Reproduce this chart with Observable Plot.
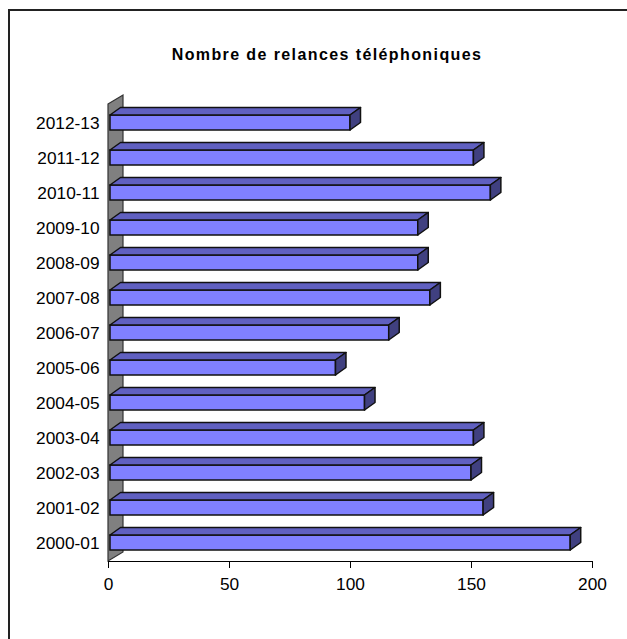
<!DOCTYPE html>
<html>
<head>
<meta charset="utf-8">
<script src="https://cdn.jsdelivr.net/npm/d3@7"></script>
<script src="https://cdn.jsdelivr.net/npm/@observablehq/plot@0.6"></script>
<style>
  html, body { margin: 0; padding: 0; background: white; width: 627px; height: 639px; overflow: hidden; position: relative; font-family: "Liberation Sans", Arial, sans-serif; }
  #frame { position: absolute; left: 8px; top: 9px; width: 800px; height: 800px; border-left: 2px solid #222; border-top: 2px solid #222; }
  #title { position: absolute; left: 127px; width: 400px; top: 47px; line-height: 16px; text-align: center; font-weight: bold; font-size: 16px; letter-spacing: 1.4px; color: #000; }
  #chart { position: absolute; left: 0; top: 80px; }
</style>
</head>
<body>
<div id="frame"></div>
<div id="title">Nombre de relances téléphoniques</div>
<div id="chart"></div>
<script>
const seasons = ["2000-01","2001-02","2002-03","2003-04","2004-05","2005-06","2006-07","2007-08","2008-09","2009-10","2010-11","2011-12","2012-13"];
const relances = [191,155,150,151,106,94,116,133,128,128,158,151,100];
const xTicks = [0,50,100,150,200];

const data = seasons.map((s, i) => ({season: s, value: relances[i]}));

const plot = Plot.plot({
  width: 627,
  height: 530,
  marginLeft: 108,
  marginRight: 35,
  marginTop: 24,
  marginBottom: 49,
  style: {background: "transparent", fontFamily: "'Liberation Sans', Arial, sans-serif", fontSize: "17.3px", color: "#000", overflow: "visible"},
  x: {domain: [0, 200], ticks: xTicks, tickFormat: d => String(d), tickSize: 7, tickPadding: 9, label: null, line: true},
  y: {domain: seasons.slice().reverse(), paddingInner: 0.575, paddingOuter: 0.2875, tickSize: 0, tickPadding: 9, label: null},
  marks: [
    Plot.barX(data, {x1: 0, x2: "value", y: "season", fill: "#8080ff", stroke: "#111", strokeWidth: 1.5, insetLeft: 2})
  ]
});
document.getElementById("chart").appendChild(plot);

// 3D faces drawn from the plot's own scales
const sx = plot.scale("x"), sy = plot.scale("y");
const bw = sy.bandwidth !== undefined ? sy.bandwidth : Math.abs(sy.apply(seasons[0]) - sy.apply(seasons[1])) * (1 - 0.575);
const svg = d3.select(plot);
const yr = sy.range;
const r0 = Math.min(yr[0], yr[1]), r1 = Math.max(yr[0], yr[1]);
const x0 = sx.apply(0);
const wdx = 15, wdy = -9;
const wall = svg.insert("g", ":first-child");
wall.append("polygon")
  .attr("points", [[x0, r0], [x0 + wdx, r0 + wdy], [x0 + wdx, r1 + wdy], [x0, r1]].map(p => p.join(",")).join(" "))
  .attr("fill", "#808080").attr("stroke", "#333").attr("stroke-width", 1.2);

const dx = 10.5, dy = -7.5;
const faces = svg.append("g");
data.forEach(d => {
  const y0 = sy.apply(d.season), y1 = y0 + bw;
  const xL = x0 + 2, xR = sx.apply(d.value);
  faces.append("polygon")
    .attr("points", [[xL, y0], [xR, y0], [xR + dx, y0 + dy], [xL + dx, y0 + dy]].map(p => p.join(",")).join(" "))
    .attr("fill", "#6060c0").attr("stroke", "#111").attr("stroke-width", 1.5).attr("stroke-linejoin", "round");
  faces.append("polygon")
    .attr("points", [[xR, y0], [xR + dx, y0 + dy], [xR + dx, y1 + dy], [xR, y1]].map(p => p.join(",")).join(" "))
    .attr("fill", "#404080").attr("stroke", "#111").attr("stroke-width", 1.5).attr("stroke-linejoin", "round");
});
</script>
</body>
</html>
